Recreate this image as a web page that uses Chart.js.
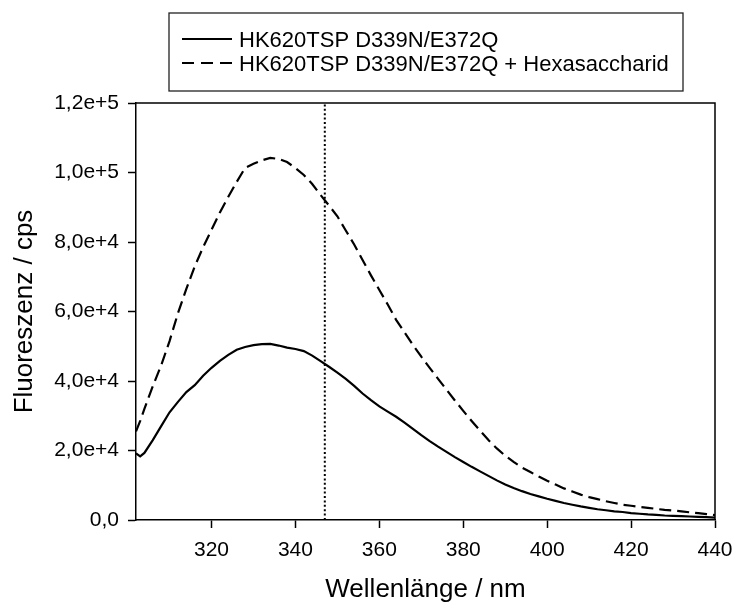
<!DOCTYPE html>
<html>
<head>
<meta charset="utf-8">
<script src="https://cdn.jsdelivr.net/npm/chart.js@4/dist/chart.umd.min.js"></script>
<style>
  html, body { margin: 0; padding: 0; background: #fff; }
  #wrap { width: 735px; height: 603px; position: relative; }
</style>
</head>
<body>
<div id="wrap"><canvas id="c" width="735" height="603"></canvas></div>
<script>
const seriesLabels = ["HK620TSP D339N/E372Q", "HK620TSP D339N/E372Q + Hexasaccharid"];
const xTitle = "Wellenlänge / nm";
const yTitle = "Fluoreszenz / cps";

const wavelengths = [302, 303, 304, 306, 308, 310, 312, 314, 316, 318, 320, 322, 324, 326, 328, 330, 332, 334, 336, 338,
  340, 342, 344, 346, 348, 350, 352, 354, 356, 358, 360, 362, 364, 366, 368, 370, 372, 374, 376, 378,
  380, 382, 384, 386, 388, 390, 392, 394, 396, 398, 400, 402, 404, 406, 408, 410, 412, 414, 416, 418,
  420, 422, 424, 426, 428, 430, 432, 434, 436, 438, 440];

const solidValues = [19200, 18300, 19300, 23000, 27000, 31000, 34000, 36800, 38800, 41500, 43800, 45800, 47500, 49000, 49800, 50300, 50600, 50700, 50200, 49600,
  49200, 48600, 47300, 45700, 44100, 42400, 40600, 38600, 36400, 34500, 32700, 31200, 29700, 28000, 26200, 24400, 22700, 21100, 19600, 18100,
  16700, 15300, 14000, 12700, 11400, 10200, 9200, 8300, 7500, 6800, 6100, 5500, 4900, 4400, 3900, 3500, 3100, 2800, 2500, 2300,
  2000, 1800, 1600, 1500, 1300, 1200, 1100, 1000, 900, 800, 700];

const dashedValues = [25500, 28500, 32000, 38500, 44500, 51500, 59500, 66500, 73000, 78500, 83500, 88500, 93000, 97300, 101300, 102500, 103500, 104200, 103900, 103000,
  101300, 99300, 96700, 93500, 90500, 87400, 83300, 79300, 74800, 70400, 66200, 62000, 57600, 54000, 50400, 47000, 43800, 40600, 37500, 34400,
  31400, 28500, 25700, 23000, 20600, 18500, 16700, 15100, 13800, 12500, 11300, 10200, 9100, 8200, 7300, 6600, 6000, 5400, 4900, 4400,
  4100, 3800, 3500, 3200, 2900, 2700, 2500, 2200, 2000, 1700, 1400];

const markerX = [347, 347];
const markerY = [0, 120000];

const xMin = 302, xMax = 440, xStep = 20;
const yMin = 0, yMax = 120000, yStep = 20000;

const FONT = "'Liberation Sans', Arial, sans-serif";

function toPoints(xs, ys) { return xs.map((x, i) => ({ x: x, y: ys[i] })); }

function fmtY(v) {
  if (v === 0) return "0,0";
  const e = Math.floor(Math.log10(Math.abs(v)) + 1e-9);
  const m = v / Math.pow(10, e);
  return m.toFixed(1).replace('.', ',') + 'e+' + e;
}

const framePlugin = {
  id: 'frameAndLegend',
  afterDraw(chart) {
    const ctx = chart.ctx;
    const a = chart.chartArea;
    ctx.save();
    ctx.strokeStyle = '#000';
    ctx.lineWidth = 1.5;
    ctx.setLineDash([]);
    ctx.beginPath();
    ctx.moveTo(a.left, a.top);
    ctx.lineTo(a.right, a.top);
    ctx.lineTo(a.right, a.bottom);
    ctx.stroke();

    // legend box
    const bx = 169, by = 13, bw = 683 - 169, bh = 91 - 13;
    ctx.lineWidth = 1.3;
    ctx.strokeStyle = '#222';
    ctx.strokeRect(bx, by, bw, bh);
    const rows = [39, 63];
    const dashes = [[], [12, 7]];
    ctx.font = '22px ' + FONT;
    ctx.fillStyle = '#000';
    ctx.textBaseline = 'alphabetic';
    for (let i = 0; i < 2; i++) {
      ctx.strokeStyle = '#000';
      ctx.lineWidth = 2;
      ctx.setLineDash(dashes[i]);
      ctx.beginPath();
      ctx.moveTo(182, rows[i]);
      ctx.lineTo(232, rows[i]);
      ctx.stroke();
      ctx.setLineDash([]);
      ctx.fillText(chart.data.datasets[i].label, 239, rows[i] + 8);
    }
    ctx.restore();
  }
};

new Chart(document.getElementById('c'), {
  type: 'line',
  data: {
    datasets: [
      { label: seriesLabels[0], data: toPoints(wavelengths, solidValues), borderColor: '#000', borderWidth: 2.2, pointRadius: 0, tension: 0, fill: false },
      { label: seriesLabels[1], data: toPoints(wavelengths, dashedValues), borderColor: '#000', borderWidth: 2.2, borderDash: [12, 6], pointRadius: 0, tension: 0, fill: false },
      { label: '', data: toPoints(markerX, markerY), borderColor: '#000', borderWidth: 2, borderDash: [2, 2.4], pointRadius: 0, fill: false }
    ]
  },
  options: {
    responsive: false,
    animation: false,
    layout: { padding: { top: 103, right: 20, left: 0, bottom: 0 } },
    plugins: { legend: { display: false }, tooltip: { enabled: false } },
    scales: {
      x: {
        type: 'linear', min: xMin, max: xMax,
        afterFit(s) { s.height = 83; s.paddingLeft = 0; s.paddingRight = 0; },
        ticks: { stepSize: xStep, includeBounds: false, autoSkip: false, maxRotation: 0, color: '#000', padding: 10, font: { family: FONT, size: 21 } },
        grid: { drawOnChartArea: false, drawTicks: true, tickLength: 8, tickColor: '#000', tickWidth: 1.5 },
        border: { display: true, color: '#000', width: 1.5 },
        title: { display: true, text: xTitle, color: '#000', font: { family: FONT, size: 26 }, padding: { top: 0, bottom: -2 } }
      },
      y: {
        type: 'linear', min: yMin, max: yMax,
        afterFit(s) { s.width = 136; s.paddingTop = 0; s.paddingBottom = 0; },
        ticks: { stepSize: yStep, color: '#000', padding: 9, font: { family: FONT, size: 21 }, callback: (v) => fmtY(v) },
        grid: { drawOnChartArea: false, drawTicks: true, tickLength: 8, tickColor: '#000', tickWidth: 1.5 },
        border: { display: true, color: '#000', width: 1.5 },
        title: { display: true, text: yTitle, color: '#000', font: { family: FONT, size: 26 }, padding: { top: 9, bottom: 0 } }
      }
    }
  },
  plugins: [framePlugin]
});
</script>
</body>
</html>
